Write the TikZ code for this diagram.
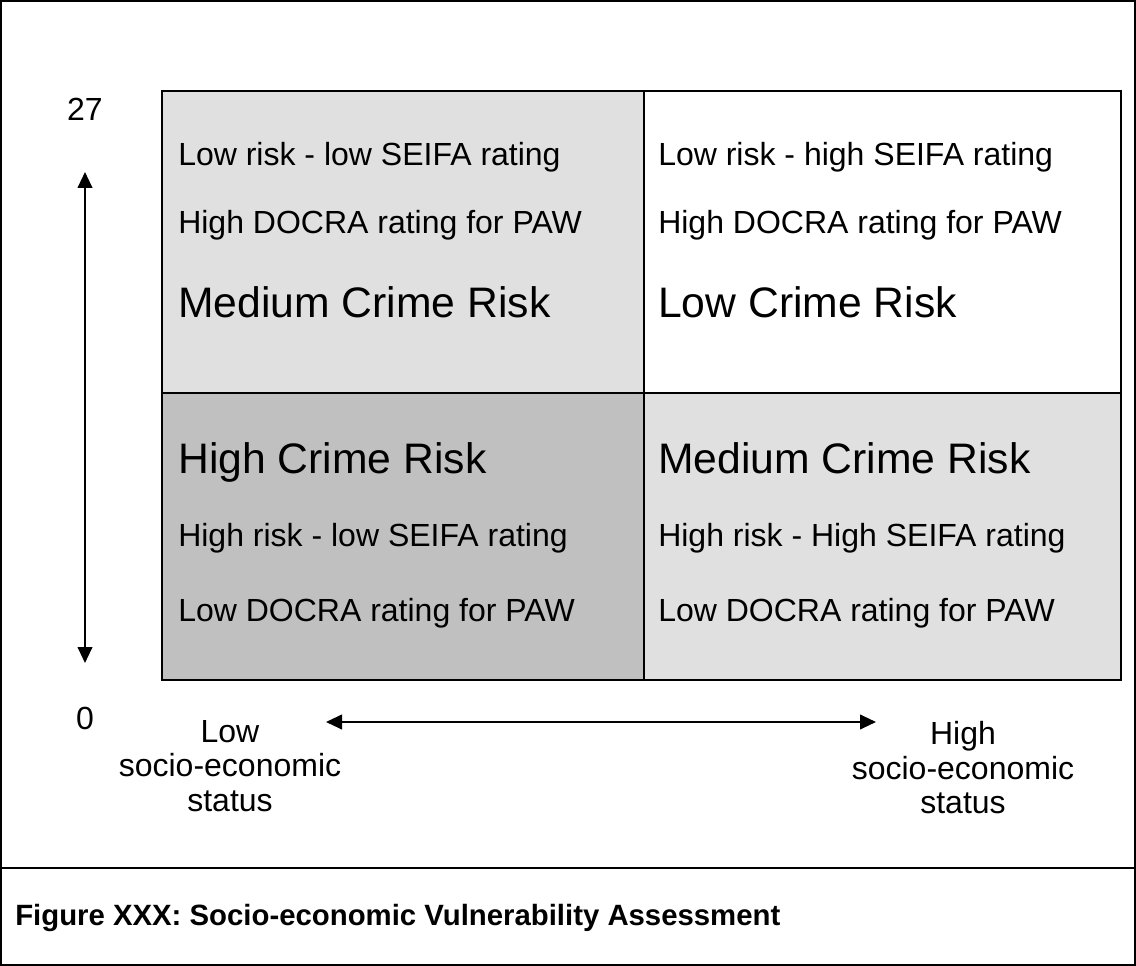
\documentclass[tikz,border=0pt]{standalone}
\usepackage{fontspec}
\setmainfont{Liberation Sans}
\usetikzlibrary{arrows.meta}

\definecolor{quadlight}{HTML}{E0E0E0}
\definecolor{quaddark}{HTML}{C0C0C0}

\tikzset{
  smalltext/.style={font=\fontsize{24}{25.5}\selectfont, inner sep=0pt},
  bigtext/.style={font=\fontsize{32}{36}\selectfont, inner sep=0pt},
  axislabel/.style={font=\fontsize{24}{26}\selectfont, inner sep=0pt, align=center},
  axisarrow/.style={line width=1.5pt,
    {Triangle[length=12pt,width=11pt]}-{Triangle[length=12pt,width=11pt]}},
  gridline/.style={line width=1.7pt},
}

\begin{document}
\begin{tikzpicture}[x=0.75pt, y=-0.75pt]
  \useasboundingbox (0,0) rectangle (1136,966);

  % Outer frame and caption strip
  \draw[line width=1.2pt] (1,1) rectangle (1135,965);
  \draw[line width=2pt] (1,868) -- (1135,868);

  % Quadrants
  \fill[quadlight] (162,91) rectangle (644,393);
  \fill[quaddark]  (162,393) rectangle (644,680);
  \fill[quadlight] (644,393) rectangle (1121,680);
  \draw[gridline] (162,91) rectangle (1121,680);
  \draw[gridline] (644,91) -- (644,680);
  \draw[gridline] (162,393) -- (1121,393);

  % Top left
  \node[smalltext, anchor=base west] (tlrisk) at (178,166) {Low risk - low SEIFA rating};
  \node[smalltext, anchor=base west] (tldocra) at (178,234) {High DOCRA rating for PAW};
  \node[bigtext, anchor=base west] (tlclass) at (178,318) {Medium Crime Risk};
  % Top right
  \node[smalltext, anchor=base west] (trrisk) at (658,166) {Low risk - high SEIFA rating};
  \node[smalltext, anchor=base west] (trdocra) at (658,234) {High DOCRA rating for PAW};
  \node[bigtext, anchor=base west] (trclass) at (658,318) {Low Crime Risk};
  % Bottom left
  \node[bigtext, anchor=base west] (blclass) at (178,473) {High Crime Risk};
  \node[smalltext, anchor=base west] (blrisk) at (178,546) {High risk - low SEIFA rating};
  \node[smalltext, anchor=base west] (bldocra) at (178,621) {Low DOCRA rating for PAW};
  % Bottom right
  \node[bigtext, anchor=base west] (brclass) at (658,473) {Medium Crime Risk};
  \node[smalltext, anchor=base west] (brrisk) at (658,546) {High risk - High SEIFA rating};
  \node[smalltext, anchor=base west] (brdocra) at (658,621) {Low DOCRA rating for PAW};

  % Vertical scale
  \node[smalltext, anchor=base] (ymax) at (85,121) {27};
  \node[smalltext, anchor=base] (ymin) at (85,729) {0};
  \coordinate (ytop) at (85,172);
  \coordinate (ybot) at (85,663);
  \draw[axisarrow] (ytop) -- (ybot);

  % Horizontal scale
  \node[axislabel, anchor=north] (xlow) at (230,720) {Low\\socio-economic\\status};
  \node[axislabel, anchor=north] (xhigh) at (963,721) {High\\socio-economic\\status};
  \coordinate (xleft) at (326,722);
  \coordinate (xright) at (876,722);
  \draw[axisarrow] (xleft) -- (xright);

  % Caption
  \node[inner sep=0pt, font=\fontsize{22}{24}\selectfont\bfseries, anchor=base west] (caption)
    at (15,925) {Figure XXX: Socio-economic Vulnerability Assessment};
\end{tikzpicture}
\end{document}
